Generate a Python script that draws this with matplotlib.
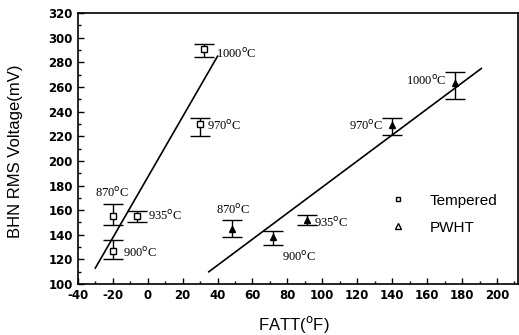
import matplotlib
matplotlib.use("Agg")
import matplotlib.pyplot as plt
from matplotlib.ticker import MultipleLocator
from matplotlib.lines import Line2D

plt.rcParams["axes.unicode_minus"] = False

# Tempered samples
temp_labels = ["870", "900", "935", "970", "1000"]
temp_fatt = [-20, -20, -6, 30, 32]
temp_v = [155, 127, 155, 230, 291]
temp_lo = [148, 120, 150, 220, 284]
temp_hi = [165, 136, 159, 235, 295]

# PWHT samples
pwht_labels = ["870", "900", "935", "970", "1000"]
pwht_fatt = [48, 72, 91, 140, 176]
pwht_v = [145, 138, 152, 229, 263]
pwht_lo = [138, 132, 148, 221, 250]
pwht_hi = [152, 143, 156, 235, 272]

# fit lines (end points)
temp_line_x = [-30, 40]
temp_line_y = [113, 285]
pwht_line_x = [35, 191]
pwht_line_y = [110, 275]

# label anchor points (x, y, ha)
temp_lab_pos = [(-30, 174, "left"), (-14, 125, "left"), (0, 155, "left"),
                (34, 228, "left"), (39, 287, "left")]
pwht_lab_pos = [(39, 160, "left"), (77, 122, "left"), (95, 150, "left"),
                (135, 228, "right"), (171, 265, "right")]

fig = plt.figure(figsize=(5.19, 3.35), dpi=100)
ax = fig.add_axes([0.150, 0.152, 0.848, 0.809])

def errs(v, lo, hi):
    return [[a - b for a, b in zip(v, lo)], [c - a for a, c in zip(v, hi)]]

ax.errorbar(temp_fatt, temp_v, yerr=errs(temp_v, temp_lo, temp_hi), fmt="s",
            ms=4, mfc="white", mec="black", ecolor="black", elinewidth=1,
            capsize=7, capthick=1, color="black")
ax.errorbar(pwht_fatt, pwht_v, yerr=errs(pwht_v, pwht_lo, pwht_hi), fmt="^",
            ms=4.5, mfc="black", mec="black", ecolor="black", elinewidth=1,
            capsize=7, capthick=1, color="black")
ax.plot(temp_line_x, temp_line_y, color="black", lw=1.2)
ax.plot(pwht_line_x, pwht_line_y, color="black", lw=1.2)

for lab, (x, y, ha) in zip(temp_labels, temp_lab_pos):
    ax.text(x, y, lab + "$^{\\rm o}$C", fontsize=9, family="Liberation Serif",
            ha=ha, va="center")
for lab, (x, y, ha) in zip(pwht_labels, pwht_lab_pos):
    ax.text(x, y, lab + "$^{\\rm o}$C", fontsize=9, family="Liberation Serif",
            ha=ha, va="center")

ax.set_xlim(-40, 212)
ax.set_ylim(100, 320)
ax.xaxis.set_major_locator(MultipleLocator(20))
ax.xaxis.set_minor_locator(MultipleLocator(10))
ax.yaxis.set_major_locator(MultipleLocator(20))
ax.yaxis.set_minor_locator(MultipleLocator(10))
ax.tick_params(which="both", direction="in", width=1)
ax.tick_params(which="major", length=4, labelsize=8.5)
ax.tick_params(which="minor", length=2)
for t in ax.get_xticklabels() + ax.get_yticklabels():
    t.set_fontweight("bold")
for s in ax.spines.values():
    s.set_linewidth(1.2)

ax.set_xlabel("FATT($^{\\rm o}$F)", fontsize=12, family="Liberation Sans")
ax.set_ylabel("BHN RMS Voltage(mV)", fontsize=12, family="Liberation Sans")
ax.xaxis.set_label_coords(0.49, -0.112)
ax.yaxis.set_label_coords(-0.125, 0.49)

handles = [Line2D([], [], ls="", marker="s", ms=3.5, mfc="white", mec="black"),
           Line2D([], [], ls="", marker="^", ms=4, mfc="white", mec="black")]
ax.legend(handles, ["Tempered", "PWHT"], loc="center left",
          bbox_to_anchor=(0.709, 0.258), frameon=False,
          borderpad=0, borderaxespad=0,
          handlelength=1.0, handletextpad=1.6, labelspacing=0.85,
          prop={"family": "Liberation Sans", "size": 11})

fig.savefig("out.png", dpi=100)
